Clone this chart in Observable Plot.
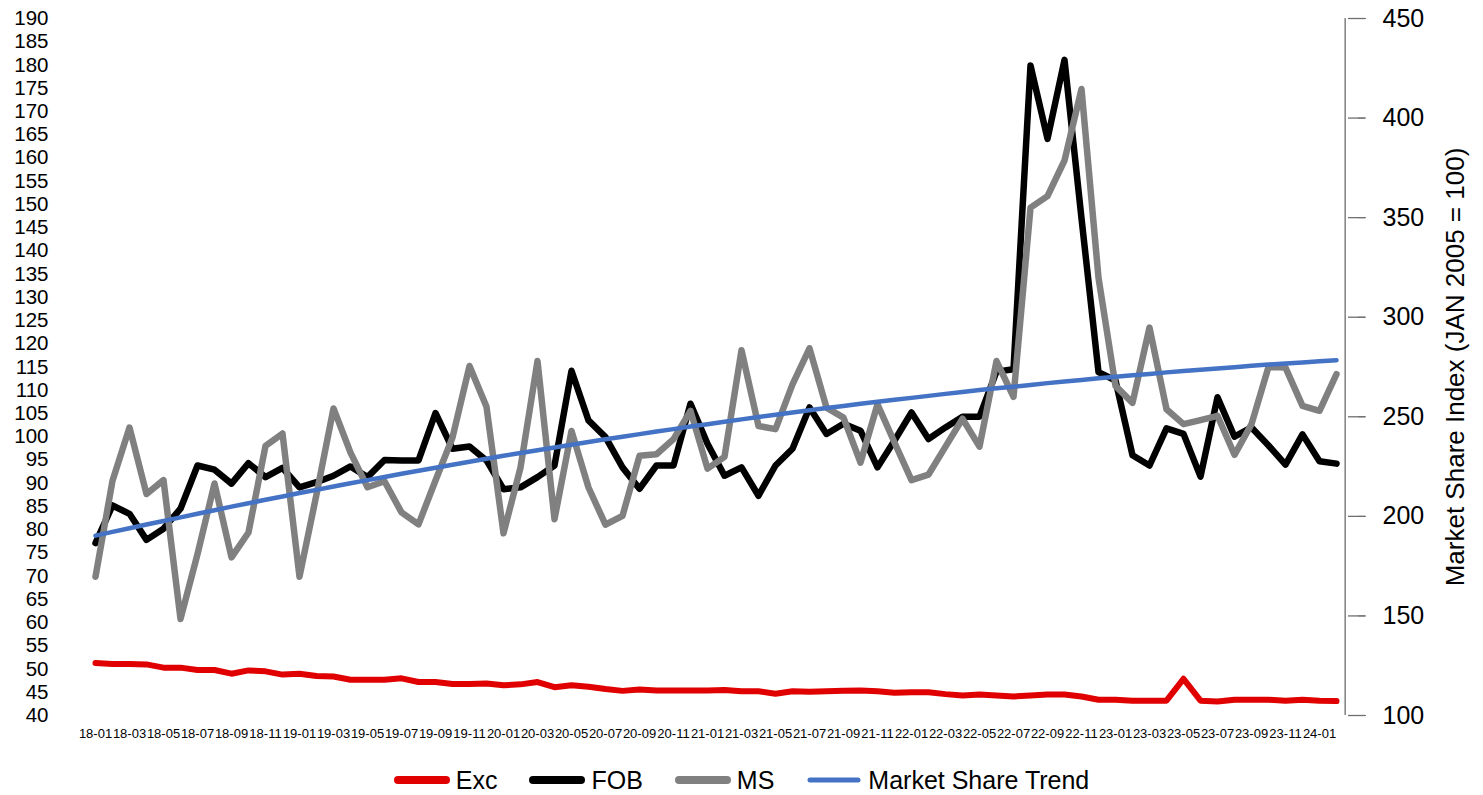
<!DOCTYPE html>
<html><head><meta charset="utf-8">
<script src="https://cdn.jsdelivr.net/npm/d3@7"></script>
<script src="https://cdn.jsdelivr.net/npm/@observablehq/plot@0.6"></script>
<style>
html,body{margin:0;padding:0;background:#fff;}
#legend{display:flex;justify-content:center;align-items:center;gap:32px;font-family:"Liberation Sans",Arial,sans-serif;font-size:25px;height:50px;margin-top:10px;color:#000;}
.item{display:flex;align-items:center;gap:6px}
</style></head><body><div id="chart"></div><div id="legend"></div>
<script>
const months = ["18-01","18-02","18-03","18-04","18-05","18-06","18-07","18-08","18-09","18-10","18-11","18-12",
"19-01","19-02","19-03","19-04","19-05","19-06","19-07","19-08","19-09","19-10","19-11","19-12",
"20-01","20-02","20-03","20-04","20-05","20-06","20-07","20-08","20-09","20-10","20-11","20-12",
"21-01","21-02","21-03","21-04","21-05","21-06","21-07","21-08","21-09","21-10","21-11","21-12",
"22-01","22-02","22-03","22-04","22-05","22-06","22-07","22-08","22-09","22-10","22-11","22-12",
"23-01","23-02","23-03","23-04","23-05","23-06","23-07","23-08","23-09","23-10","23-11","23-12",
"24-01","24-02"];
const xTickLabels = ["18-01","18-03","18-05","18-07","18-09","18-11","19-01","19-03","19-05","19-07","19-09","19-11",
"20-01","20-03","20-05","20-07","20-09","20-11","21-01","21-03","21-05","21-07","21-09","21-11",
"22-01","22-03","22-05","22-07","22-09","22-11","23-01","23-03","23-05","23-07","23-09","23-11","24-01"];
// left axis (index)
const exc = [51.3,51.1,51.1,51.0,50.3,50.3,49.8,49.8,49.0,49.7,49.5,48.8,
49.0,48.5,48.4,47.7,47.7,47.7,48.0,47.2,47.2,46.8,46.8,46.9,
46.5,46.7,47.2,46.1,46.5,46.2,45.7,45.3,45.6,45.4,45.4,45.4,
45.4,45.5,45.2,45.2,44.7,45.2,45.1,45.2,45.3,45.4,45.2,44.9,
45.0,45.0,44.6,44.3,44.5,44.3,44.1,44.3,44.5,44.5,44.1,43.4,
43.4,43.2,43.2,43.2,47.9,43.2,43.0,43.4,43.4,43.4,43.2,43.4,
43.2,43.1];
const fob = [77.1,85.2,83.4,77.8,80.2,84.5,93.8,92.9,89.9,94.3,91.3,93.3,
89.1,90.2,91.6,93.6,91.3,95.0,94.9,94.9,105.1,97.4,97.9,94.9,
88.7,89.1,91.3,93.8,114.2,103.5,99.9,93.4,88.8,93.8,93.8,107.1,
98.5,91.6,93.4,87.3,93.8,97.4,106.3,100.6,102.8,101.3,93.4,99.2,
105.2,99.5,102.0,104.3,104.3,114.0,114.5,179.9,164.1,181.1,147.0,113.9,
112.1,96.0,93.8,101.8,100.6,91.4,108.5,100.0,102.0,98.1,94.0,100.5,
94.7,94.2];
// right axis (Market Share Index)
const ms = [169.7,217.9,244.6,211.2,218.2,148.5,181.0,216.5,179.4,191.9,235.4,241.6,
169.7,211.0,254.2,232.0,214.6,217.6,202.0,196.0,218.0,239.6,275.5,255.0,
191.5,224.5,278.0,198.6,242.9,214.5,195.8,200.3,230.4,231.2,238.8,253.0,
224.0,229.9,283.4,245.4,243.8,266.3,284.4,254.6,249.6,227.0,256.3,237.1,
218.2,221.0,235.0,249.0,235.0,278.0,260.0,355.0,360.8,378.7,414.6,319.8,
265.5,257.0,294.8,253.8,246.3,248.3,250.5,230.9,246.3,275.0,274.7,255.5,
253.0,271.4];
const trend = [190.3,192.2,194.0,195.9,197.7,199.5,201.3,203.1,204.9,206.6,208.3,210.0,
211.7,213.3,215.0,216.6,218.2,219.8,221.4,222.9,224.4,225.9,227.4,228.9,
230.4,231.8,233.2,234.6,236.0,237.3,238.7,240.0,241.3,242.6,243.8,245.1,
246.3,247.5,248.7,249.9,251.0,252.1,253.3,254.4,255.4,256.5,257.5,258.5,
259.5,260.5,261.5,262.4,263.4,264.3,265.1,266.0,266.9,267.7,268.5,269.3,
270.1,270.8,271.5,272.3,273.0,273.6,274.3,274.9,275.6,276.2,276.8,277.3,
277.9,278.4];
const leftTicks = [40,45,50,55,60,65,70,75,80,85,90,95,100,105,110,115,120,125,130,135,140,145,150,155,160,165,170,175,180,185,190];
const rightTicks = [100,150,200,250,300,350,400,450];
const leftDomain = [40,190], rightDomain = [100,450];
const rightTitle = "Market Share Index (JAN 2005 = 100)";
const series = [
  {name:"Exc", color:"#E00000", width:6},
  {name:"FOB", color:"#000000", width:6.5},
  {name:"MS", color:"#808080", width:6.5},
  {name:"Market Share Trend", color:"#4472C4", width:4.5}
];

const toLeft = v => leftDomain[0] + (v - rightDomain[0]) * (leftDomain[1]-leftDomain[0]) / (rightDomain[1]-rightDomain[0]);
const fromLeft = v => rightDomain[0] + (v - leftDomain[0]) * (rightDomain[1]-rightDomain[0]) / (leftDomain[1]-leftDomain[0]);

const W = 1483, H = 745, mL = 73, mR = 126, mT = 18, mB = 30;
const frameW = W - mL - mR;
const rows = (arr, conv) => arr.map((v,i) => ({m: months[i], v: conv ? conv(v) : v}));
const lineOpts = s => ({x:"m", y:"v", stroke:s.color, strokeWidth:s.width, strokeLinejoin:"round", strokeLinecap:"round"});

const chart = Plot.plot({
  width: W, height: H,
  marginLeft: mL, marginRight: mR, marginTop: mT, marginBottom: mB,
  style: {fontFamily: '"Liberation Sans", Arial, sans-serif', color:"#000", background:"#fff"},
  x: {type:"point", domain: months, padding: 0.5, axis: null},
  y: {domain: leftDomain, axis: null},
  marks: [
    Plot.axisY({anchor:"left", ticks: leftTicks, tickSize: 0, tickPadding: 25, fontSize: 20.5, label: null}),
    Plot.axisY({anchor:"right", ticks: rightTicks.map(toLeft), tickFormat: d => String(Math.round(fromLeft(d))), tickSize: 8, tickPadding: 17, stroke:"#6f6f6f", fontSize: 25, label: null}),
    Plot.ruleY(rightTicks.map(toLeft), {y: d => d, stroke:"#6f6f6f", strokeWidth:1.3, insetLeft: frameW - 9, insetRight: -8}),
    Plot.ruleX([months[months.length-1]], {x: d => d, dx: frameW/months.length/2, y1: leftDomain[0], y2: leftDomain[1], stroke:"#7f7f7f", strokeWidth:1.5}),
    Plot.axisX({ticks: xTickLabels, tickSize: 0, tickPadding: 13, fontSize: 13, label: null}),
    Plot.line(rows(exc), lineOpts(series[0])),
    Plot.line(rows(fob), lineOpts(series[1])),
    Plot.line(rows(ms, toLeft), lineOpts(series[2])),
    Plot.line(rows(trend, toLeft), lineOpts(series[3])),
    Plot.text([rightTitle], {text: d => d, frameAnchor:"right", textAnchor:"middle", lineAnchor:"middle", rotate:-90, dx: 98, fontSize: 26, fill:"#000"})
  ]
});
document.getElementById("chart").appendChild(chart);

const legend = document.getElementById("legend");
for (const s of series) {
  const item = document.createElement("div");
  item.className = "item";
  const sw = `<svg width="56" height="12"><line x1="4" y1="6" x2="52" y2="6" stroke="${s.color}" stroke-width="${s.name==="Market Share Trend"?5:8}" stroke-linecap="round"/></svg>`;
  item.innerHTML = sw + `<span>${s.name}</span>`;
  legend.appendChild(item);
}
</script>
</body></html>
